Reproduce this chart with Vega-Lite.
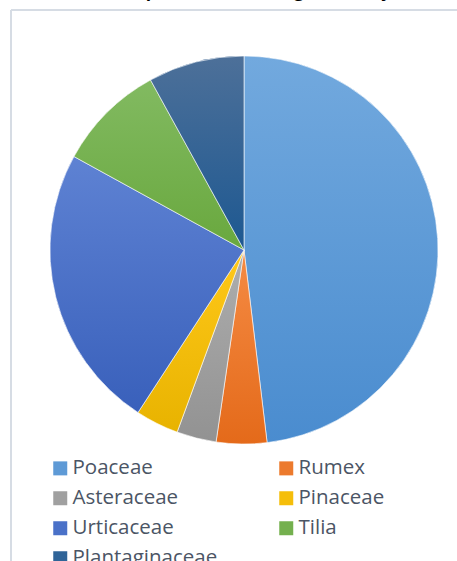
{
  "$schema": "https://vega.github.io/schema/vega-lite/v6.json",
  "autosize": "none",
  "width": 446,
  "height": 551,
  "padding": {"left": 11, "top": 10, "right": 0, "bottom": 0},
  "background": "#ffffff",
  "view": {"stroke": "#D6DCE4", "strokeWidth": 2, "strokeDash": [446, 997, 551, 0]},
  "title": {
    "text": "Total pollen sum during the study",
    "font": "Open Sans",
    "fontSize": 17.5,
    "fontWeight": "bold",
    "color": "#000000",
    "anchor": "middle",
    "baseline": "alphabetic",
    "offset": 1,
    "dx": 10,
    "dy": 5
  },
  "data": {
    "values": [
      {"taxon": "Poaceae", "share": 48.1, "rank": 1},
      {"taxon": "Rumex", "share": 4.2, "rank": 2},
      {"taxon": "Asteraceae", "share": 3.3, "rank": 3},
      {"taxon": "Pinaceae", "share": 3.6, "rank": 4},
      {"taxon": "Urticaceae", "share": 23.8, "rank": 5},
      {"taxon": "Tilia", "share": 9.0, "rank": 6},
      {"taxon": "Plantaginaceae", "share": 8.0, "rank": 7}
    ]
  },
  "transform": [
    {"stack": "share", "groupby": [], "sort": [{"field": "rank", "order": "ascending"}], "as": ["t0", "t1"]}
  ],
  "encoding": {
    "theta": {"field": "t0", "type": "quantitative", "scale": {"domain": [0, 100]}},
    "theta2": {"field": "t1"}
  },
  "layer": [
    {
      "mark": {"type": "arc", "outerRadius": 194, "xOffset": 10, "yOffset": -35.5, "stroke": "#ffffff", "strokeWidth": 0.6},
      "encoding": {
        "color": {
          "field": "taxon",
          "type": "nominal",
          "sort": ["Poaceae", "Rumex", "Asteraceae", "Pinaceae", "Urticaceae", "Tilia", "Plantaginaceae"],
          "scale": {
            "domain": ["Poaceae", "Rumex", "Asteraceae", "Pinaceae", "Urticaceae", "Tilia", "Plantaginaceae"],
            "range": ["#5E9AD6", "#EC7A2D", "#A0A0A0", "#F5BE0A", "#4A71C8", "#74B04E", "#2F6498"]
          },
          "legend": {
            "title": null,
            "orient": "none",
            "legendX": 39,
            "legendY": 448,
            "direction": "horizontal",
            "columns": 2,
            "columnPadding": 58,
            "rowPadding": 9,
            "padding": 0,
            "symbolType": "square",
            "symbolSize": 196,
            "symbolStrokeWidth": 0,
            "symbolOpacity": 1,
            "labelFont": "Open Sans",
            "labelFontSize": 20.5,
            "labelColor": "#4B5565",
            "labelOffset": 2,
            "labelLimit": 300
          }
        }
      }
    },
    {
      "transform": [{"filter": "datum.taxon === 'Poaceae'"}],
      "mark": {"type": "arc", "outerRadius": 194, "xOffset": 10, "yOffset": -35.5, "stroke": "#ffffff", "strokeWidth": 0.6,
        "fill": {"gradient": "linear", "x1": 0, "y1": 0, "x2": 0, "y2": 1, "stops": [{"offset": 0, "color": "#72A9DE"}, {"offset": 1, "color": "#4A8CCF"}]}}
    },
    {
      "transform": [{"filter": "datum.taxon === 'Rumex'"}],
      "mark": {"type": "arc", "outerRadius": 194, "xOffset": 10, "yOffset": -35.5, "stroke": "#ffffff", "strokeWidth": 0.6,
        "fill": {"gradient": "linear", "x1": 0, "y1": 0, "x2": 0, "y2": 1, "stops": [{"offset": 0, "color": "#F58B44"}, {"offset": 1, "color": "#E46A1A"}]}}
    },
    {
      "transform": [{"filter": "datum.taxon === 'Asteraceae'"}],
      "mark": {"type": "arc", "outerRadius": 194, "xOffset": 10, "yOffset": -35.5, "stroke": "#ffffff", "strokeWidth": 0.6,
        "fill": {"gradient": "linear", "x1": 0, "y1": 0, "x2": 0, "y2": 1, "stops": [{"offset": 0, "color": "#AEAEAE"}, {"offset": 1, "color": "#929292"}]}}
    },
    {
      "transform": [{"filter": "datum.taxon === 'Pinaceae'"}],
      "mark": {"type": "arc", "outerRadius": 194, "xOffset": 10, "yOffset": -35.5, "stroke": "#ffffff", "strokeWidth": 0.6,
        "fill": {"gradient": "linear", "x1": 0, "y1": 0, "x2": 0, "y2": 1, "stops": [{"offset": 0, "color": "#FFC81A"}, {"offset": 1, "color": "#E8B300"}]}}
    },
    {
      "transform": [{"filter": "datum.taxon === 'Urticaceae'"}],
      "mark": {"type": "arc", "outerRadius": 194, "xOffset": 10, "yOffset": -35.5, "stroke": "#ffffff", "strokeWidth": 0.6,
        "fill": {"gradient": "linear", "x1": 0, "y1": 0, "x2": 0, "y2": 1, "stops": [{"offset": 0, "color": "#5E82D3"}, {"offset": 1, "color": "#3960BB"}]}}
    },
    {
      "transform": [{"filter": "datum.taxon === 'Tilia'"}],
      "mark": {"type": "arc", "outerRadius": 194, "xOffset": 10, "yOffset": -35.5, "stroke": "#ffffff", "strokeWidth": 0.6,
        "fill": {"gradient": "linear", "x1": 0, "y1": 0, "x2": 0, "y2": 1, "stops": [{"offset": 0, "color": "#82BA61"}, {"offset": 1, "color": "#69A83E"}]}}
    },
    {
      "transform": [{"filter": "datum.taxon === 'Plantaginaceae'"}],
      "mark": {"type": "arc", "outerRadius": 194, "xOffset": 10, "yOffset": -35.5, "stroke": "#ffffff", "strokeWidth": 0.6,
        "fill": {"gradient": "linear", "x1": 0, "y1": 0, "x2": 0, "y2": 1, "stops": [{"offset": 0, "color": "#4D7099"}, {"offset": 1, "color": "#1D5891"}]}}
    }
  ]
}
